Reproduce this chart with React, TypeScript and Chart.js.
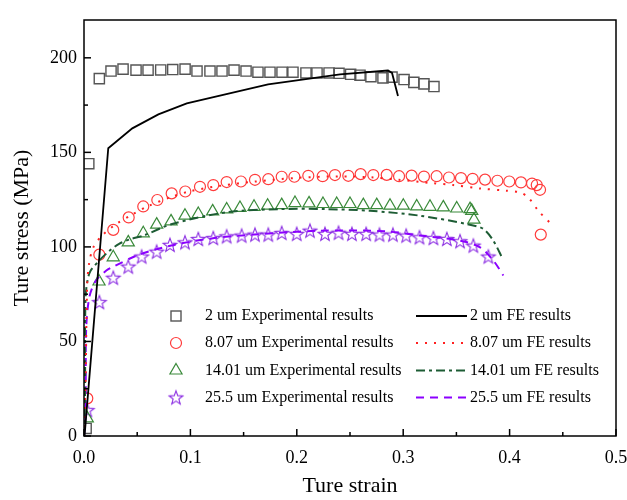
import { useEffect, useRef } from 'react';
import { Chart, registerables } from 'chart.js';
Chart.register(...registerables);

// ---- axis ticks ----
const xTicks = [0, 0.1, 0.2, 0.3, 0.4, 0.5];
const xMinorTicks = [0.05, 0.15, 0.25, 0.35, 0.45];
const yTicks = [0, 50, 100, 150, 200];
const yMinorTicks = [25, 75, 125, 175];

// ---- 2 um ----
const exp2Strain = [0.002, 0.0045, 0.0144, 0.0254, 0.0367, 0.0489, 0.0602, 0.0721, 0.0834, 0.095, 0.1062, 0.1184, 0.1297, 0.141, 0.1523, 0.1635, 0.1748, 0.1861, 0.1964, 0.2086, 0.219, 0.2303, 0.2397, 0.2506, 0.2594, 0.2697, 0.281, 0.2895, 0.3008, 0.31, 0.3195, 0.3289];
const exp2Stress = [4, 144, 189, 193, 194, 193.5, 193.5, 193.6, 193.8, 194, 193, 193, 193, 193.5, 193, 192.4, 192.4, 192.4, 192.4, 192, 192, 192, 191.8, 191.3, 190.8, 190, 189.4, 189.8, 188.5, 187, 186.2, 184.8];
const fe2Strain = [0.0005, 0.0228, 0.0454, 0.0699, 0.0966, 0.173, 0.2406, 0.2857, 0.2895, 0.2951];
const fe2Stress = [0, 152.2, 162.7, 170.1, 175.9, 185.9, 191.2, 193.3, 192, 179.8];

// ---- 8.07 um ----
const exp807Strain = [0.0031, 0.0144, 0.0275, 0.042, 0.0557, 0.0689, 0.0824, 0.0952, 0.109, 0.1215, 0.1341, 0.1475, 0.1607, 0.1732, 0.1858, 0.1977, 0.2108, 0.2243, 0.2359, 0.2484, 0.26, 0.2719, 0.2845, 0.2961, 0.3079, 0.3195, 0.3314, 0.343, 0.3543, 0.3653, 0.3769, 0.3885, 0.3997, 0.4107, 0.4211, 0.4255, 0.4286, 0.4293];
const exp807Stress = [19.9, 95.9, 109, 115.6, 121.4, 124.8, 128.3, 129.3, 131.8, 132.7, 134.3, 134.6, 135.5, 135.8, 137.1, 137.1, 137.6, 137.4, 138, 137.6, 138.5, 138, 138.1, 137.4, 137.7, 137.2, 137.4, 136.7, 136.4, 136, 135.6, 135, 134.6, 134.1, 133.5, 132.7, 130.2, 106.5];
const fe807Strain = [0, 0.0015, 0.003, 0.005, 0.009, 0.017, 0.03, 0.045, 0.06, 0.08, 0.1, 0.13, 0.16, 0.2, 0.24, 0.27, 0.296, 0.328, 0.347, 0.3722, 0.3973, 0.4098, 0.4176, 0.427, 0.4386];
const fe807Stress = [0, 30, 80, 92, 100, 106, 112, 117, 121.5, 126, 129.5, 132.5, 134.5, 136.5, 137.3, 136.8, 135.5, 133.7, 132.7, 130.9, 129.7, 128.8, 126.1, 119.1, 112.4];

// ---- 14.01 um ----
const exp1401Strain = [0.0031, 0.0141, 0.0275, 0.0416, 0.0557, 0.0683, 0.0818, 0.0949, 0.1074, 0.1209, 0.1341, 0.1466, 0.1598, 0.1726, 0.1858, 0.1983, 0.2115, 0.2246, 0.2375, 0.25, 0.2625, 0.2751, 0.2876, 0.3001, 0.3127, 0.3252, 0.3377, 0.3503, 0.3628, 0.3644, 0.3665];
const exp1401Stress = [9.3, 81.7, 94.5, 102.4, 107.2, 111.8, 113.5, 116.5, 117.4, 118.8, 119.8, 120.6, 121.2, 121.8, 122.1, 123.2, 123, 122.7, 122.7, 122.7, 122.1, 122.1, 121.8, 121.8, 121.4, 121.2, 120.9, 120.3, 120, 119.1, 114.4];
const fe1401Strain = [0, 0.001, 0.0015, 0.005, 0.013, 0.024, 0.033, 0.043, 0.056, 0.082, 0.134, 0.184, 0.226, 0.2688, 0.3158, 0.3597, 0.3753, 0.3847, 0.3935];
const fe1401Stress = [0, 20, 73, 86, 92, 98, 101.6, 104, 106, 112, 118.3, 120, 120, 119.1, 116.5, 112.1, 109.5, 103.3, 93.7];

// ---- 25.5 um ----
const exp255Strain = [0.0031, 0.0144, 0.0275, 0.0416, 0.0542, 0.0683, 0.0808, 0.0949, 0.1074, 0.1215, 0.1341, 0.1482, 0.1607, 0.1732, 0.1858, 0.1999, 0.2124, 0.2265, 0.2392, 0.2518, 0.2652, 0.2777, 0.2903, 0.3028, 0.3153, 0.3284, 0.341, 0.3534, 0.3659, 0.38];
const exp255Stress = [13.7, 70.8, 83.7, 89.6, 94.9, 97.5, 101.1, 102.4, 104.2, 104.7, 105.6, 106, 106.5, 106.5, 107.4, 106.9, 108.6, 106.9, 107.5, 106.9, 106.9, 106.5, 106.5, 106, 105.1, 104.7, 104.2, 103, 100.7, 94.9];
const fe255Strain = [0, 0.0015, 0.002, 0.005, 0.011, 0.021, 0.0275, 0.05, 0.08, 0.12, 0.16, 0.2218, 0.2845, 0.3158, 0.3534, 0.3722, 0.3847, 0.3941];
const fe255Stress = [0, 12, 56, 73.4, 82, 87.5, 89.5, 95.5, 100.5, 104.5, 106.5, 108.6, 108.2, 106, 103.3, 99.8, 92.8, 84.9];

const expLabels = ['2 um Experimental results', '8.07 um Experimental results', '14.01 um Experimental results', '25.5 um Experimental results'];
const feLabels = ['2 um FE results', '8.07 um FE results', '14.01 um FE results', '25.5 um FE results'];

const SERIF = '"Liberation Serif", "Times New Roman", serif';
const C_SQ = '#555555';
const C_CIRC = '#ff3b3b';
const C_TRI = '#3a8a3a';
const C_STAR = '#8a2be2';
const C_RED_LINE = '#ff2020';
const C_GREEN_LINE = '#1d5c34';
const C_PURPLE_LINE = '#8b00ff';

const pts = (xs: number[], ys: number[]) => xs.map((v, i) => ({ x: v, y: ys[i] }));

function makeStar(): HTMLCanvasElement {
  const c = document.createElement('canvas');
  c.width = 18; c.height = 18;
  const g = c.getContext('2d')!;
  g.strokeStyle = C_STAR;
  g.lineWidth = 1.1;
  g.beginPath();
  for (let i = 0; i < 10; i++) {
    const r = i % 2 === 0 ? 7.2 : 3.0;
    const a = -Math.PI / 2 + (i * Math.PI) / 5;
    const px = 9 + r * Math.cos(a);
    const py = 9.6 + r * Math.sin(a);
    if (i === 0) g.moveTo(px, py); else g.lineTo(px, py);
  }
  g.closePath();
  g.stroke();
  return c;
}

export default function App() {
  const ref = useRef<HTMLCanvasElement>(null);
  useEffect(() => {
    if (!ref.current) return;
    const star = makeStar();

    const framePlugin = {
      id: 'frame',
      afterDraw(chart: any) {
        const { ctx, chartArea, scales } = chart;
        const { left, right, top, bottom } = chartArea;
        const x = scales.x, y = scales.y;
        ctx.save();
        ctx.strokeStyle = '#000';
        ctx.lineWidth = 1.5;
        ctx.strokeRect(left, top, right - left, bottom - top);
        const seg = (x1: number, y1: number, x2: number, y2: number) => {
          ctx.beginPath(); ctx.moveTo(x1, y1); ctx.lineTo(x2, y2); ctx.stroke();
        };
        xTicks.forEach(v => { const p = x.getPixelForValue(v); seg(p, bottom, p, bottom - 7); });
        xMinorTicks.forEach(v => { const p = x.getPixelForValue(v); seg(p, bottom, p, bottom - 4); });
        yTicks.forEach(v => { const p = y.getPixelForValue(v); seg(left, p, left + 7, p); });
        yMinorTicks.forEach(v => { const p = y.getPixelForValue(v); seg(left, p, left + 4, p); });

        // axis titles
        ctx.fillStyle = '#000';
        ctx.font = `22px ${SERIF}`;
        ctx.textAlign = 'center';
        ctx.textBaseline = 'middle';
        ctx.fillText('Ture strain', (left + right) / 2, 486);
        ctx.save();
        ctx.translate(22, 228);
        ctx.rotate(-Math.PI / 2);
        ctx.fillText('Ture stress (MPa)', 0, 0);
        ctx.restore();

        // legend
        const rows = [316, 343, 370.5, 397.5];
        ctx.font = `16px ${SERIF}`;
        ctx.textAlign = 'left';
        ctx.textBaseline = 'middle';
        rows.forEach((ry, i) => {
          ctx.fillStyle = '#000';
          ctx.fillText(expLabels[i], 205, ry);
          ctx.fillText(feLabels[i], 470, ry);
        });
        const mx = 176;
        ctx.strokeStyle = C_SQ; ctx.lineWidth = 1.4;
        ctx.strokeRect(mx - 5, rows[0] - 5, 10, 10);
        ctx.strokeStyle = C_CIRC; ctx.lineWidth = 1.2;
        ctx.beginPath(); ctx.arc(mx, rows[1], 5.5, 0, Math.PI * 2); ctx.stroke();
        ctx.strokeStyle = C_TRI; ctx.lineWidth = 1.2;
        ctx.beginPath();
        const tr = 7;
        for (let k = 0; k < 3; k++) {
          const a = -Math.PI / 2 + k * (2 * Math.PI / 3);
          const px = mx + tr * Math.cos(a), py = rows[2] + tr * Math.sin(a);
          if (k === 0) ctx.moveTo(px, py); else ctx.lineTo(px, py);
        }
        ctx.closePath(); ctx.stroke();
        ctx.drawImage(star, mx - 9, rows[3] - 9);
        const lx1 = 416, lx2 = 467;
        const lineStyles = [
          { c: '#000', d: [] as number[], w: 1.8 },
          { c: C_RED_LINE, d: [2, 7], w: 2 },
          { c: C_GREEN_LINE, d: [9, 4, 3, 4], w: 2 },
          { c: C_PURPLE_LINE, d: [8, 6], w: 2 },
        ];
        lineStyles.forEach((s, i) => {
          ctx.strokeStyle = s.c; ctx.lineWidth = s.w; ctx.setLineDash(s.d);
          seg(lx1, rows[i], lx2, rows[i]);
        });
        ctx.setLineDash([]);
        ctx.restore();
      },
    };

    const tickFont = { family: SERIF, size: 18 };
    const chart = new Chart(ref.current, {
      type: 'scatter',
      data: {
        datasets: [
          { label: feLabels[0], data: pts(fe2Strain, fe2Stress), showLine: true, borderColor: '#000', borderWidth: 1.8, pointRadius: 0, tension: 0 },
          { label: feLabels[1], data: pts(fe807Strain, fe807Stress), showLine: true, borderColor: C_RED_LINE, borderWidth: 2, borderDash: [2, 7], pointRadius: 0, tension: 0.3 },
          { label: feLabels[2], data: pts(fe1401Strain, fe1401Stress), showLine: true, borderColor: C_GREEN_LINE, borderWidth: 2, borderDash: [9, 4, 3, 4], pointRadius: 0, tension: 0.3 },
          { label: feLabels[3], data: pts(fe255Strain, fe255Stress), showLine: true, borderColor: C_PURPLE_LINE, borderWidth: 2, borderDash: [8, 6], pointRadius: 0, tension: 0.3 },
          { label: expLabels[0], data: pts(exp2Strain, exp2Stress), pointStyle: 'rect', pointRadius: 7.2, borderColor: C_SQ, borderWidth: 1.4, backgroundColor: 'rgba(0,0,0,0)' },
          { label: expLabels[1], data: pts(exp807Strain, exp807Stress), pointStyle: 'circle', pointRadius: 5.5, borderColor: C_CIRC, borderWidth: 1.2, backgroundColor: 'rgba(0,0,0,0)' },
          { label: expLabels[2], data: pts(exp1401Strain, exp1401Stress), pointStyle: 'triangle', pointRadius: 7, borderColor: C_TRI, borderWidth: 1.2, backgroundColor: 'rgba(0,0,0,0)' },
          { label: expLabels[3], data: pts(exp255Strain, exp255Stress), pointStyle: star as any, pointRadius: 8 },
        ] as any,
      },
      options: {
        responsive: false,
        animation: false,
        layout: { padding: { top: 20, right: 11, left: 0, bottom: 0 } },
        plugins: { legend: { display: false }, tooltip: { enabled: false } },
        scales: {
          x: {
            type: 'linear', min: 0, max: 0.5,
            afterBuildTicks: (axis: any) => { axis.ticks = xTicks.map(v => ({ value: v })); },
            afterFit: (axis: any) => { axis.height = 64; axis.paddingLeft = 0; axis.paddingRight = 0; },
            grid: { display: false, drawTicks: false },
            border: { display: false },
            ticks: { font: tickFont, color: '#000', padding: 11, maxRotation: 0, autoSkip: false, callback: (v: any) => Number(v).toFixed(1) },
          },
          y: {
            type: 'linear', min: 0, max: 220,
            afterBuildTicks: (axis: any) => { axis.ticks = yTicks.map(v => ({ value: v })); },
            afterFit: (axis: any) => { axis.width = 84; axis.paddingTop = 0; axis.paddingBottom = 0; },
            grid: { display: false, drawTicks: false },
            border: { display: false },
            ticks: { font: tickFont, color: '#000', padding: 7, autoSkip: false, callback: (v: any) => String(v) },
          },
        },
      } as any,
      plugins: [framePlugin],
    });
    return () => chart.destroy();
  }, []);

  return (
    <div style={{ position: 'absolute', left: 0, top: 0, width: 627, height: 500, background: '#fff' }}>
      <canvas ref={ref} width={627} height={500} />
    </div>
  );
}
